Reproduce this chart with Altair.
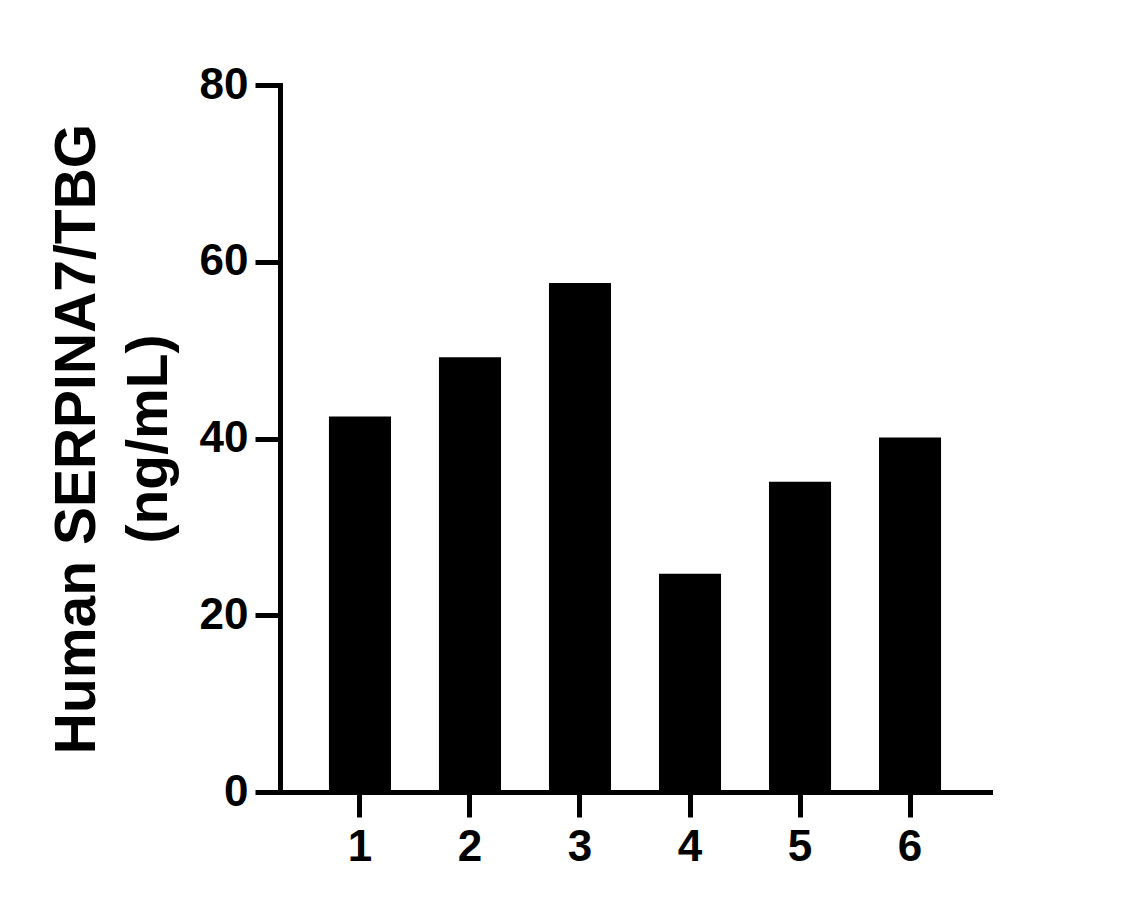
import altair as alt
import pandas as pd

categories = ["1", "2", "3", "4", "5", "6"]
values = [42.5, 49.2, 57.6, 24.7, 35.1, 40.1]
y_ticks = [0, 20, 40, 60, 80]

df = pd.DataFrame({"sample": categories, "value": values})

FONT = "Liberation Sans"

chart = alt.Chart(df).mark_bar(color="black").encode(
    x=alt.X(
        "sample:N",
        sort=categories,
        scale=alt.Scale(paddingInner=0.436, paddingOuter=0.445),
        axis=alt.Axis(
            title=None,
            labelAngle=0,
            labelFont=FONT,
            labelFontWeight="bold",
            labelFontSize=44,
            labelColor="black",
            labelPadding=8,
            tickSize=25,
            tickWidth=5,
            tickColor="black",
            domainWidth=5,
            domainColor="black",
            domainCap="square",
        ),
    ),
    y=alt.Y(
        "value:Q",
        scale=alt.Scale(domain=[0, 80], nice=False),
        axis=alt.Axis(
            values=y_ticks,
            title=["Human SERPINA7/TBG", "(ng/mL)"],
            titleFont=FONT,
            titleFontWeight="bold",
            titleFontSize=57,
            titleColor="black",
            titleAngle=270,
            titleAlign="center",
            titleBaseline="alphabetic",
            titleLineHeight=72,
            titleX=-186,
            titleY=353.5,
            labelFont=FONT,
            labelFontWeight="bold",
            labelFontSize=44,
            labelColor="black",
            labelPadding=7,
            tickSize=25,
            tickWidth=5,
            tickColor="black",
            domainWidth=5,
            domainColor="black",
            domainCap="square",
            grid=False,
        ),
    ),
).properties(
    width=710,
    height=707,
    autosize=alt.AutoSizeParams(type="none"),
    padding={"left": 272, "top": 77, "right": 120, "bottom": 100},
    background="white",
).configure_view(stroke=None, strokeWidth=0)

chart.save("out.html", embed_options={"renderer": "svg", "actions": False})
